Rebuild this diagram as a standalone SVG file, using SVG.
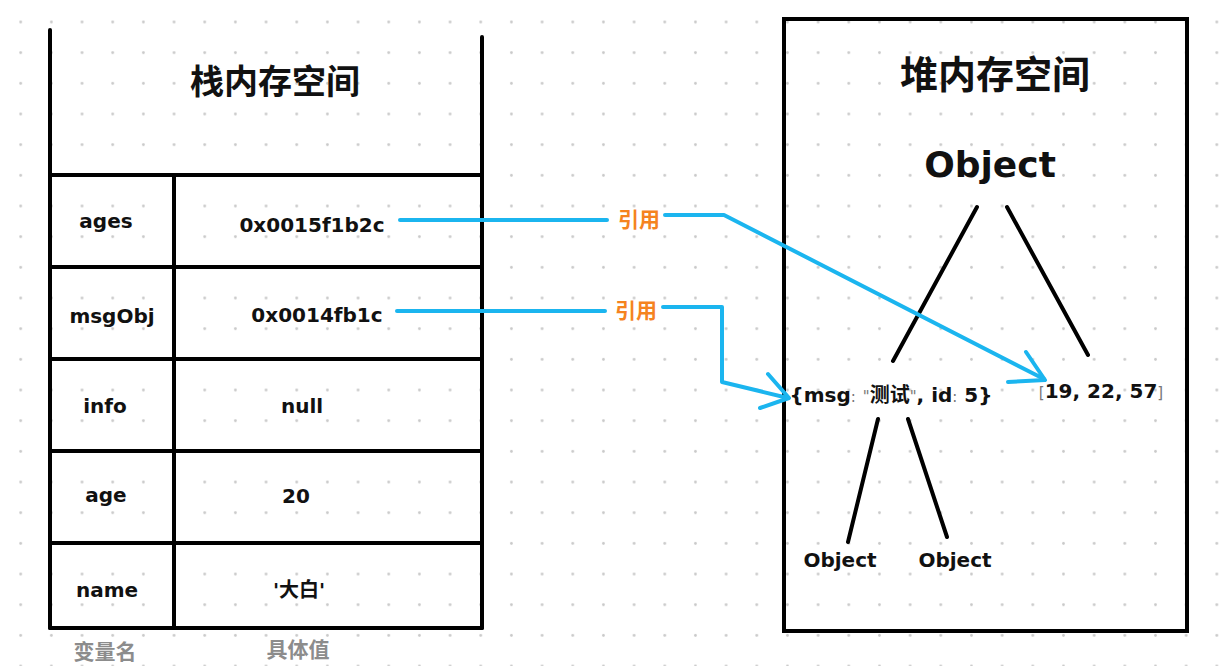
<svg xmlns="http://www.w3.org/2000/svg" width="1228" height="666" viewBox="0 0 1228 666">
  <defs>
    <pattern id="dots" patternUnits="userSpaceOnUse" x="5.37" y="6.67" width="30.67" height="30.67">
      <circle cx="15.33" cy="15.33" r="1.4" fill="#c9c9c9"/>
    </pattern>
    <style>
      .ln { stroke: #000; stroke-width: 4; fill: none; stroke-linecap: round; }
      .bl { stroke: #1bb5ef; stroke-width: 4; fill: none; stroke-linecap: round; stroke-linejoin: round; }
      .t { font-family: "DejaVu Sans", "Noto Sans CJK SC", sans-serif; font-weight: bold; fill: #111; text-anchor: middle; }
      .f20 { font-size: 20px; }
      .ttl { font-family: "Noto Sans CJK SC", sans-serif; font-weight: bold; fill: #111; text-anchor: middle; }
      .ref { font-family: "Noto Sans CJK SC", sans-serif; font-weight: bold; fill: #f5831f; font-size: 21px; text-anchor: middle; }
      .cap { font-family: "Noto Sans CJK SC", sans-serif; font-weight: bold; fill: #8c8c8c; font-size: 21px; text-anchor: middle; }
      .thin { font-weight: normal; fill: #777; font-size: 15px; }
    </style>
  </defs>
  <rect width="1228" height="666" fill="#fff"/>
  <rect width="1228" height="666" fill="url(#dots)"/>

  <g id="stack">
    <line class="ln" x1="50" y1="30" x2="50" y2="628"/>
    <line class="ln" x1="482" y1="37" x2="482" y2="628"/>
    <line class="ln" x1="50" y1="628" x2="482" y2="628"/>
    <line class="ln" x1="50" y1="175" x2="482" y2="175"/>
    <line class="ln" x1="50" y1="267" x2="482" y2="267"/>
    <line class="ln" x1="50" y1="359" x2="482" y2="359"/>
    <line class="ln" x1="50" y1="451" x2="482" y2="451"/>
    <line class="ln" x1="50" y1="543" x2="482" y2="543"/>
    <line class="ln" x1="174" y1="175" x2="174" y2="628"/>
    <text class="ttl" x="275" y="94" font-size="34">栈内存空间</text>
  </g>

  <g id="row-ages">
    <text class="t f20" x="106" y="228">ages</text>
    <text class="t f20" x="312" y="232">0x0015f1b2c</text>
  </g>
  <g id="row-msgObj">
    <text class="t f20" x="112" y="323">msgObj</text>
    <text class="t f20" x="317" y="322">0x0014fb1c</text>
  </g>
  <g id="row-info">
    <text class="t f20" x="105" y="413">info</text>
    <text class="t f20" x="302" y="413">null</text>
  </g>
  <g id="row-age">
    <text class="t f20" x="106" y="502">age</text>
    <text class="t f20" x="296" y="503">20</text>
  </g>
  <g id="row-name">
    <text class="t f20" x="107" y="597">name</text>
    <text class="t f20" x="299" y="597">'大白'</text>
  </g>
  <g id="captions">
    <text class="cap" x="105" y="659">变量名</text>
    <text class="cap" x="298" y="657">具体值</text>
  </g>

  <g id="heap">
    <rect class="ln" x="784" y="19" width="403" height="612" stroke-linejoin="miter"/>
    <text class="ttl" x="995" y="88" font-size="38">堆内存空间</text>
  </g>
  <g id="heap-object">
    <text class="t" x="990" y="177" font-size="36">Object</text>
    <line class="ln" x1="977" y1="207" x2="893" y2="361"/>
    <line class="ln" x1="1007" y1="207" x2="1088" y2="355"/>
  </g>
  <g id="msg-object">
    <text class="t f20" x="891" y="402">{msg<tspan class="thin">:</tspan> <tspan class="thin">"</tspan>测试<tspan class="thin">"</tspan>, id<tspan class="thin">:</tspan> 5}</text>
    <line class="ln" x1="878" y1="419" x2="848" y2="542"/>
    <line class="ln" x1="908" y1="419" x2="947" y2="537"/>
  </g>
  <g id="ages-array">
    <text class="t f20" x="1101" y="398"><tspan class="thin">[</tspan>19, 22, 57<tspan class="thin">]</tspan></text>
  </g>
  <g id="child-object-1">
    <text class="t f20" x="840" y="567">Object</text>
  </g>
  <g id="child-object-2">
    <text class="t f20" x="955" y="567">Object</text>
  </g>

  <g id="connectors">
    <polyline class="bl" points="400,220 607,220"/>
    <polyline class="bl" points="665,215 724,215 1044,379"/>
    <polyline class="bl" points="1026,352 1045,380 1008,382"/>
    <text class="ref" x="639" y="227">引用</text>

    <polyline class="bl" points="397,311 605,311"/>
    <polyline class="bl" points="663,307 722,307 722,382 788,398"/>
    <polyline class="bl" points="768,374 789,398 760,408"/>
    <text class="ref" x="636" y="318">引用</text>
  </g>
</svg>
